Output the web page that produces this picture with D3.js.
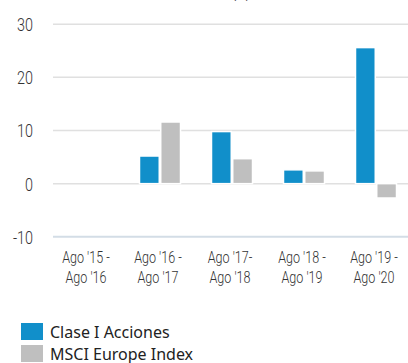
<!DOCTYPE html>
<html>
<head>
<meta charset="utf-8">
<script src="https://cdn.jsdelivr.net/npm/d3@7"></script>
<style>
  html, body { margin: 0; padding: 0; background: #fff; }
  svg { display: block; }
</style>
</head>
<body>
<div id="chart"></div>
<script>
// Annual returns per 12-month period (%)
const periods = [["Ago '15 -", "Ago '16"], ["Ago '16 -", "Ago '17"], ["Ago '17-", "Ago '18"], ["Ago '18 -", "Ago '19"], ["Ago '19 -", "Ago '20"]];
const seriesNames = ["Clase I Acciones", "MSCI Europe Index"];
const claseI = [null, 5.2, 9.8, 2.6, 25.6];
const msciEurope = [null, 11.6, 4.7, 2.4, -2.7];
const yTicks = [-10, 0, 10, 20, 30];
const colors = ["#118fca", "#bfbfbf"];

const W = 408, H = 363;
const svg = d3.select("#chart").append("svg").attr("width", W).attr("height", H);

const x = d3.scaleBand().domain(periods.map((d, i) => i)).range([52, 412]).paddingInner(0).paddingOuter(0);
const x1 = d3.scaleBand().domain([0, 1]).range([0, 41]).paddingInner(0.07);
const y = d3.scaleLinear().domain([-10, 30]).range([236.8, 24.2]);

// Title line sits above the top edge of the chart area
svg.append("text").attr("x", 241).attr("y", -2).attr("text-anchor", "middle")
  .attr("font-family", "Roboto").attr("font-size", 13).attr("fill", "#222").text("(%)");

// Horizontal grid
svg.append("g").selectAll("line").data(yTicks).join("line")
  .attr("x1", 53).attr("x2", W)
  .attr("y1", d => y(d)).attr("y2", d => y(d))
  .attr("stroke", d => d === -10 ? "#d3dde6" : "#e0e0e0")
  .attr("stroke-width", d => d === -10 ? 2 : 1.5);

// Y axis labels
const yAxis = svg.append("g").attr("transform", "translate(33,0)")
  .call(d3.axisLeft(y).tickValues(yTicks).tickSize(0).tickPadding(0).tickFormat(d => String(d)));
yAxis.select(".domain").remove();
yAxis.selectAll(".tick text")
  .attr("font-family", "Roboto").attr("font-weight", 300).attr("font-size", 18).attr("fill", "#333")
  .attr("dy", "0.36em").attr("x", 0)
  .attr("transform", "scale(0.8,1)");

// Bars
const groups = svg.append("g").selectAll("g").data(periods.map((p, i) => i)).join("g")
  .attr("transform", i => `translate(${x(i) + x.bandwidth() / 2 - 20.5},0)`);
groups.selectAll("rect").data(i => [claseI[i], msciEurope[i]].map((v, s) => ({ v, s })).filter(d => d.v !== null))
  .join("rect")
  .attr("x", d => x1(d.s))
  .attr("width", x1.bandwidth())
  .attr("y", d => y(Math.max(0, d.v)))
  .attr("height", d => Math.abs(y(d.v) - y(0)))
  .attr("fill", d => colors[d.s])
  .attr("stroke", "#fff").attr("stroke-width", 1.5);

// X axis labels (two lines)
const xl = svg.append("g");
periods.forEach((p, i) => {
  const cx = x(i) + x.bandwidth() / 2 - 2;
  const t = xl.append("text")
    .attr("transform", `translate(${cx},0) scale(0.74,1)`)
    .attr("text-anchor", "middle")
    .attr("font-family", "Roboto").attr("font-weight", 300).attr("font-size", 17).attr("fill", "#333");
  p.forEach((line, k) => t.append("tspan").attr("x", 0).attr("y", 263 + k * 20).text(line));
});

// Legend
const legend = svg.append("g").selectAll("g").data(seriesNames).join("g")
  .attr("transform", (d, i) => `translate(21,${323 + i * 22})`);
legend.append("rect").attr("width", 22).attr("height", 17).attr("fill", (d, i) => colors[i]);
legend.append("text").attr("x", 29).attr("y", 14.5)
  .attr("font-family", "Noto Sans").attr("font-size", 16).attr("fill", "#222").text(d => d);
</script>
</body>
</html>
